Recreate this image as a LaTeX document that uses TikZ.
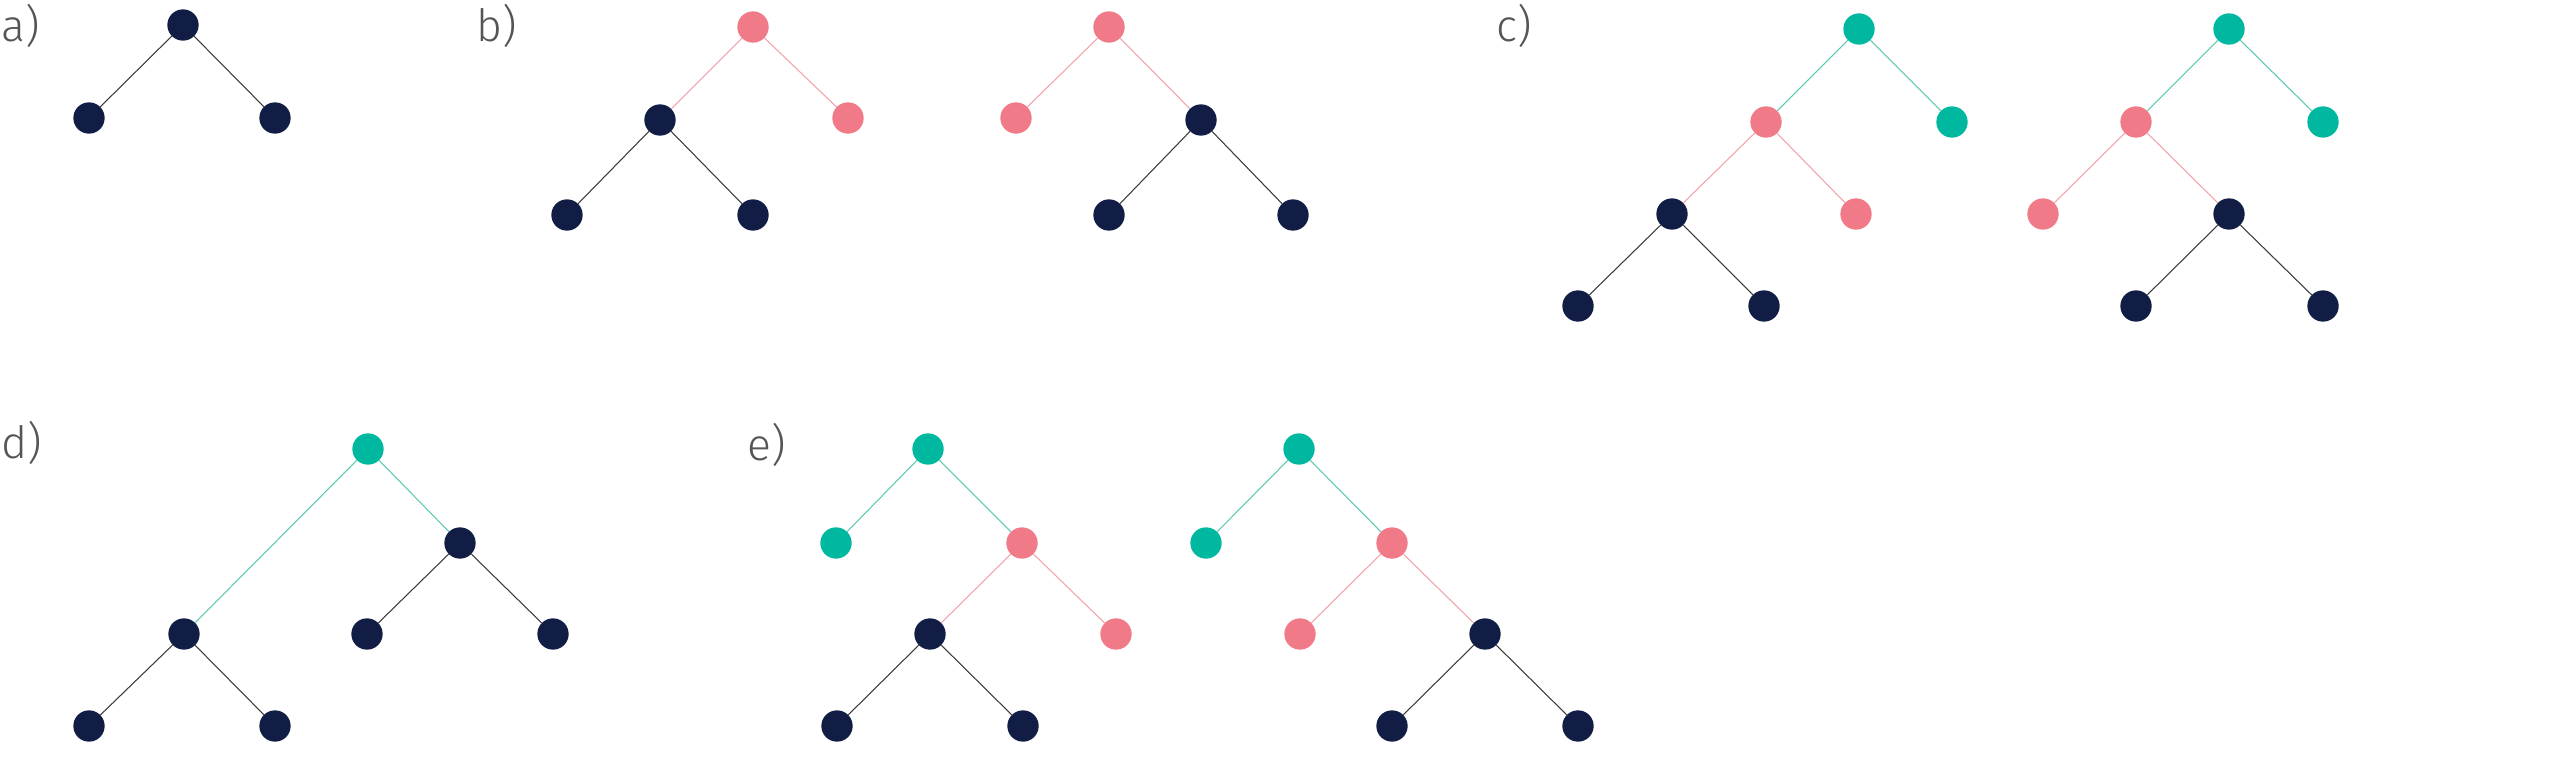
\documentclass[tikz,border=0pt]{standalone}
\usepackage{fontspec}
\setmainfont{Fira Sans Light}
\definecolor{navy}{HTML}{111D45}
\definecolor{pinkc}{HTML}{F07A88}
\definecolor{tealc}{HTML}{00B8A0}
\definecolor{pinkl}{HTML}{F2A2AA}
\definecolor{teall}{HTML}{5CC9B3}
\definecolor{darkl}{HTML}{3A3A3A}
\definecolor{labc}{HTML}{555555}
\tikzset{
  vtx/.style={circle,inner sep=0pt,minimum size=0.94cm},
  nv/.style={vtx,fill=navy},
  pk/.style={vtx,fill=pinkc},
  tl/.style={vtx,fill=tealc},
  en/.style={draw=darkl,line width=0.9pt},
  ep/.style={draw=pinkl,line width=0.9pt},
  et/.style={draw=teall,line width=0.9pt},
  lab/.style={anchor=base west,inner sep=0pt,text=labc,font=\fontsize{38}{42}\selectfont}
}
\begin{document}
\begin{tikzpicture}[x=0.03cm,y=-0.03cm]
\useasboundingbox (0,0) rectangle (2560,765);
% labels
\node[lab] (la) at (1,42) {a)};
\node[lab] (lb) at (476,42) {b)};
\node[lab] (lc) at (1496,42) {c)};
\node[lab] (ld) at (1,458) {d)};
\node[lab] (le) at (747,460) {e)};
% a
\node[nv] (a0) at (183,25) {};
\node[nv] (a1) at (89,118) {};
\node[nv] (a2) at (275,118) {};
\draw[en] (a0) -- (a1); \draw[en] (a0) -- (a2);
% b1
\node[pk] (b0) at (753,27) {};
\node[nv] (b1) at (660,120) {};
\node[pk] (b2) at (848,118) {};
\node[nv] (b3) at (567,215) {};
\node[nv] (b4) at (753,215) {};
\draw[ep] (b0) -- (b1); \draw[ep] (b0) -- (b2);
\draw[en] (b1) -- (b3); \draw[en] (b1) -- (b4);
% b2
\node[pk] (bb0) at (1109,27) {};
\node[pk] (bb1) at (1016,118) {};
\node[nv] (bb2) at (1201,120) {};
\node[nv] (bb3) at (1109,215) {};
\node[nv] (bb4) at (1293,215) {};
\draw[ep] (bb0) -- (bb1); \draw[ep] (bb0) -- (bb2);
\draw[en] (bb2) -- (bb3); \draw[en] (bb2) -- (bb4);
% c1
\node[tl] (c0) at (1859,29) {};
\node[pk] (c1) at (1766,122) {};
\node[tl] (c2) at (1952,122) {};
\node[nv] (c3) at (1672,214) {};
\node[pk] (c4) at (1856,214) {};
\node[nv] (c5) at (1578,306) {};
\node[nv] (c6) at (1764,306) {};
\draw[et] (c0) -- (c1); \draw[et] (c0) -- (c2);
\draw[ep] (c1) -- (c3); \draw[ep] (c1) -- (c4);
\draw[en] (c3) -- (c5); \draw[en] (c3) -- (c6);
% c2
\node[tl] (cc0) at (2229,29) {};
\node[pk] (cc1) at (2136,122) {};
\node[tl] (cc2) at (2323,122) {};
\node[pk] (cc3) at (2043,214) {};
\node[nv] (cc4) at (2229,214) {};
\node[nv] (cc5) at (2136,306) {};
\node[nv] (cc6) at (2323,306) {};
\draw[et] (cc0) -- (cc1); \draw[et] (cc0) -- (cc2);
\draw[ep] (cc1) -- (cc3); \draw[ep] (cc1) -- (cc4);
\draw[en] (cc4) -- (cc5); \draw[en] (cc4) -- (cc6);
% d
\node[tl] (d0) at (368,449) {};
\node[nv] (d1) at (460,543) {};
\node[nv] (d2) at (184,634) {};
\node[nv] (d3) at (367,634) {};
\node[nv] (d4) at (553,634) {};
\node[nv] (d5) at (89,726) {};
\node[nv] (d6) at (275,726) {};
\draw[et] (d0) -- (d1); \draw[et] (d0) -- (d2);
\draw[en] (d1) -- (d3); \draw[en] (d1) -- (d4);
\draw[en] (d2) -- (d5); \draw[en] (d2) -- (d6);
% e1
\node[tl] (e0) at (928,449) {};
\node[tl] (e1) at (836,543) {};
\node[pk] (e2) at (1022,543) {};
\node[nv] (e3) at (930,634) {};
\node[pk] (e4) at (1116,634) {};
\node[nv] (e5) at (837,726) {};
\node[nv] (e6) at (1023,726) {};
\draw[et] (e0) -- (e1); \draw[et] (e0) -- (e2);
\draw[ep] (e2) -- (e3); \draw[ep] (e2) -- (e4);
\draw[en] (e3) -- (e5); \draw[en] (e3) -- (e6);
% e2
\node[tl] (ee0) at (1299,449) {};
\node[tl] (ee1) at (1206,543) {};
\node[pk] (ee2) at (1392,543) {};
\node[pk] (ee3) at (1300,634) {};
\node[nv] (ee4) at (1485,634) {};
\node[nv] (ee5) at (1392,726) {};
\node[nv] (ee6) at (1578,726) {};
\draw[et] (ee0) -- (ee1); \draw[et] (ee0) -- (ee2);
\draw[ep] (ee2) -- (ee3); \draw[ep] (ee2) -- (ee4);
\draw[en] (ee4) -- (ee5); \draw[en] (ee4) -- (ee6);
\end{tikzpicture}
\end{document}
